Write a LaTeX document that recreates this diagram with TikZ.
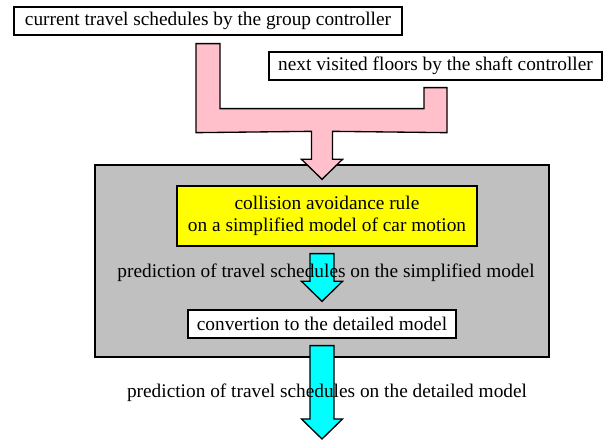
\documentclass[tikz,border=0pt]{standalone}
\usepackage{fontspec}
\setmainfont{Liberation Serif}
\usepackage{xcolor}
\usepackage{tikz}
\definecolor{panelgray}{RGB}{192, 192, 192}
\definecolor{flowpink}{RGB}{255, 192, 203}
\definecolor{flowcyan}{RGB}{0, 255, 255}
\definecolor{ruleyellow}{RGB}{255, 255, 0}
\usetikzlibrary{calc, positioning}

% fat downward arrow: style, top centre, tip
\newcommand{\fatarrow}[3]{%
  \draw[#1] ($(#2)+(-12,0)$) -- ++(24,0) -- ($(#3)+(12,-20)$) -- ++(8.5,0)
    -- (#3) -- ++(-20.5,-20) -- ++(8.5,0) -- cycle;}

\begin{document}
\begin{tikzpicture}[
    x=0.75pt, y=-0.75pt,
    every node/.style={font=\fontsize{14.5}{16.5}\selectfont},
    inbox/.style={rectangle, draw=black, line width=1pt, fill=white,
                  inner sep=0pt, minimum height=21pt, align=center},
    panel/.style={rectangle, draw=black, line width=1pt, fill=panelgray,
                  minimum width=340.5pt, minimum height=144pt},
    pinkflow/.style={draw=black, line width=1pt, fill=flowpink, line join=miter},
    cyanflow/.style={draw=black, line width=1pt, fill=flowcyan, line join=miter},
    note/.style={inner sep=0pt, anchor=base}
]
    \useasboundingbox (0,0) rectangle (611,441);

    % Inputs
    \node[inbox, minimum width=291pt] (cur) at (208,21) {current travel schedules by the group controller};
    \node[inbox, minimum width=249.75pt] (next) at (435.5,66) {next visited floors by the shaft controller};

    % Shaft controller
    \node[panel] (core) at (322,261) {};
    \node[inbox, fill=ruleyellow, minimum width=225pt, minimum height=45pt] (rule) at (327,216)
        {collision avoidance rule\\on a simplified model of car motion};
    \node[inbox, minimum width=201pt] (conv) at (322,324) {convertion to the detailed model};

    % Merging input arrow
    \draw[pinkflow] ($(cur.south)+(-12,8)$) -- ++(24,0) -- ++(0,65)
        -- ($(next.south)+(-11.5,28)$) -- ++(0,-21) -- ++(23,0) -- ++(0,45)
        -- ($(core.north)+(10.5,-33)$) -- ++(0,28) -- ++(10,0)
        -- ($(core.north)+(0,15)$) -- ++(-20.5,-20) -- ++(10,0) -- ++(0,-28)
        -- ($(cur.south)+(-12,97)$) -- cycle;

    % Outputs
    \fatarrow{cyanflow}{$(core.center |- rule.south)+(0,7)$}{$(conv.north)+(0,-8)$}
    \fatarrow{cyanflow}{$(conv.south)+(0,7)$}{322,439}

    \node[note] (simp) at (326,278) {prediction of travel schedules on the simplified model};
    \node[note] (det) at (327,398) {prediction of travel schedules on the detailed model};
\end{tikzpicture}
\end{document}
